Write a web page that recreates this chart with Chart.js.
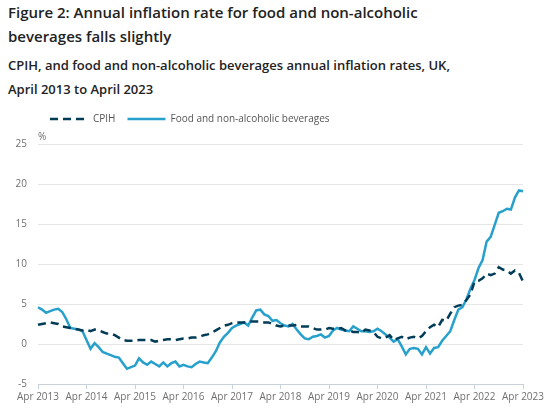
<!DOCTYPE html>
<html>
<head>
<meta charset="utf-8">
<script src="https://cdn.jsdelivr.net/npm/chart.js@4/dist/chart.umd.min.js"></script>
<style>
  body { margin: 0; background: #fff; font-family: 'Open Sans', sans-serif; }
  .title { position: absolute; left: 8px; top: 0; font-size: 15px; font-weight: 600; line-height: 24px; color: #222; }
  .subtitle { position: absolute; left: 8px; top: 53px; font-size: 13px; font-weight: 600; line-height: 24px; color: #222; }
  .chart-box { position: absolute; left: 0; top: 102px; width: 550px; height: 309px; }
</style>
</head>
<body>
<div class="title">Figure 2: Annual inflation rate for food and non-alcoholic<br>beverages falls slightly</div>
<div class="subtitle">CPIH, and food and non-alcoholic beverages annual inflation rates, UK,<br>April 2013 to April 2023</div>
<div class="chart-box"><canvas id="inflationChart"></canvas></div>
<script>
// x axis labels shown once a year
const tickLabels = ['Apr 2013', 'Apr 2014', 'Apr 2015', 'Apr 2016', 'Apr 2017', 'Apr 2018',
  'Apr 2019', 'Apr 2020', 'Apr 2021', 'Apr 2022', 'Apr 2023'];
const monthNames = ['Jan', 'Feb', 'Mar', 'Apr', 'May', 'Jun', 'Jul', 'Aug', 'Sep', 'Oct', 'Nov', 'Dec'];

// monthly annual rates, Apr 2013 - Apr 2023 (%)
const cpih = [
  2.4, 2.5, 2.6, 2.7, 2.6, 2.5, 2.2, 2.1, 2.0,
  1.9, 1.8, 1.7, 1.8, 1.6, 1.8, 1.7, 1.5, 1.3, 1.3, 1.1, 0.8,
  0.5, 0.4, 0.4, 0.4, 0.5, 0.5, 0.5, 0.5, 0.3, 0.4, 0.5, 0.6,
  0.6, 0.5, 0.6, 0.7, 0.7, 0.8, 0.8, 0.9, 1.1, 1.2, 1.4, 1.7,
  2.0, 2.3, 2.4, 2.6, 2.7, 2.7, 2.7, 2.8, 2.8, 2.8, 2.8, 2.7,
  2.7, 2.5, 2.3, 2.2, 2.3, 2.3, 2.3, 2.4, 2.2, 2.2, 2.2, 2.0,
  1.8, 1.8, 1.8, 2.0, 1.9, 1.9, 2.0, 1.7, 1.7, 1.5, 1.5, 1.4,
  1.8, 1.7, 1.5, 0.9, 0.7, 0.8, 1.1, 0.5, 0.7, 0.9, 0.6, 0.8,
  0.9, 0.7, 1.0, 1.6, 2.1, 2.4, 2.1, 3.0, 2.9, 3.8, 4.6, 4.8,
  4.9, 5.5, 6.2, 7.8, 7.9, 8.2, 8.8, 8.6, 8.8, 9.6, 9.3, 9.2,
  8.8, 9.2, 8.9, 7.8
];
const food = [
  4.6, 4.3, 3.9, 4.1, 4.3, 4.4, 4.0, 3.1, 2.0,
  1.9, 1.8, 1.6, 0.5, -0.6, 0.1, -0.4, -1.0, -1.2, -1.4, -1.6, -1.7,
  -2.4, -3.1, -2.9, -2.7, -1.8, -2.3, -2.6, -2.2, -2.5, -2.8, -2.3, -2.8,
  -2.4, -2.2, -2.8, -2.6, -2.8, -2.9, -2.5, -2.2, -2.3, -2.4, -1.7, -0.9,
  0.2, 0.9, 1.4, 2.0, 2.3, 2.5, 2.7, 2.3, 3.3, 4.2, 4.3, 3.7,
  3.5, 2.9, 3.0, 2.6, 2.3, 2.2, 2.5, 1.8, 1.2, 0.7, 0.6, 0.9,
  1.0, 1.2, 0.8, 1.0, 1.7, 2.0, 1.8, 1.7, 1.6, 2.2, 1.9, 1.6,
  1.6, 1.5, 1.6, 1.9, 1.6, 1.2, 0.8, 0.3, 0.6, -0.3, -1.3, -0.6,
  -0.5, -0.6, -1.3, -0.4, -1.2, -0.5, -0.4, 0.4, 1.0, 1.6, 3.0, 4.3,
  4.6, 5.6, 6.9, 8.0, 9.5, 10.5, 12.8, 13.4, 14.9, 16.4, 16.6, 16.9,
  16.8, 18.3, 19.2, 19.1
];

const months = [];
for (let y = 2013; y <= 2023; y++) {
  for (let m = 0; m < 12; m++) {
    if (y === 2013 && m < 3) continue;
    if (y === 2023 && m > 3) break;
    months.push(monthNames[m] + ' ' + y);
  }
}

const tickFont = { family: 'Open Sans', size: 10 };
const axisColor = '#c9d1d9';

// legend needs a bit more room below it
const legendSpace = {
  id: 'legendSpace',
  beforeInit(chart) {
    const fit = chart.legend.fit;
    chart.legend.fit = function () {
      fit.bind(chart.legend)();
      this.height += 10;
    };
  }
};

// "%" unit label above the y axis
const unitLabel = {
  id: 'unitLabel',
  afterDraw(chart) {
    const { ctx, chartArea } = chart;
    ctx.save();
    ctx.font = '10px "Open Sans"';
    ctx.fillStyle = '#707070';
    ctx.textAlign = 'left';
    ctx.textBaseline = 'middle';
    ctx.fillText('%', chartArea.left, chartArea.top - 7);
    ctx.restore();
  }
};

const ctx = document.getElementById('inflationChart').getContext('2d');
new Chart(ctx, {
  type: 'line',
  data: {
    labels: months,
    datasets: [{
      label: 'CPIH',
      data: cpih,
      borderColor: '#003c57',
      backgroundColor: '#003c57',
      borderWidth: 2.5,
      borderDash: [8, 5],
      pointRadius: 0,
      tension: 0
    }, {
      label: 'Food and non-alcoholic beverages',
      data: food,
      borderColor: '#27a0cc',
      backgroundColor: '#27a0cc',
      borderWidth: 2.5,
      pointRadius: 0,
      tension: 0
    }]
  },
  options: {
    responsive: true,
    maintainAspectRatio: false,
    animation: false,
    layout: { padding: { top: 0, right: 27, bottom: 6, left: 0 } },
    plugins: {
      legend: {
        position: 'top',
        align: 'start',
        fullSize: false,
        labels: {
          usePointStyle: true,
          pointStyle: 'line',
          pointStyleWidth: 38,
          padding: 12,
          color: '#555',
          font: tickFont,
          // point style legend takes its dash from the points, so copy the line's dash
          generateLabels: function (chart) {
            const items = Chart.defaults.plugins.legend.labels.generateLabels(chart);
            items.forEach(item => {
              const ds = chart.data.datasets[item.datasetIndex];
              item.lineDash = ds.borderDash || [];
              item.lineWidth = ds.borderWidth;
              item.strokeStyle = ds.borderColor;
            });
            return items;
          }
        }
      },
      tooltip: { enabled: false }
    },
    scales: {
      x: {
        grid: { drawOnChartArea: false, drawTicks: true, tickLength: 5, color: axisColor },
        border: { color: axisColor },
        ticks: {
          autoSkip: false,
          maxRotation: 0,
          padding: 2,
          color: '#707070',
          font: tickFont,
          callback: function (value, index) {
            const label = months[index];
            return tickLabels.includes(label) ? label : null;
          }
        }
      },
      y: {
        min: -5,
        max: 25,
        ticks: { stepSize: 5, padding: 11, color: '#707070', font: tickFont },
        grid: { color: '#e6e6e6', drawTicks: false },
        border: { display: false },
        afterFit: function (scale) { scale.width = 38; }
      }
    }
  },
  plugins: [legendSpace, unitLabel]
});
</script>
</body>
</html>
